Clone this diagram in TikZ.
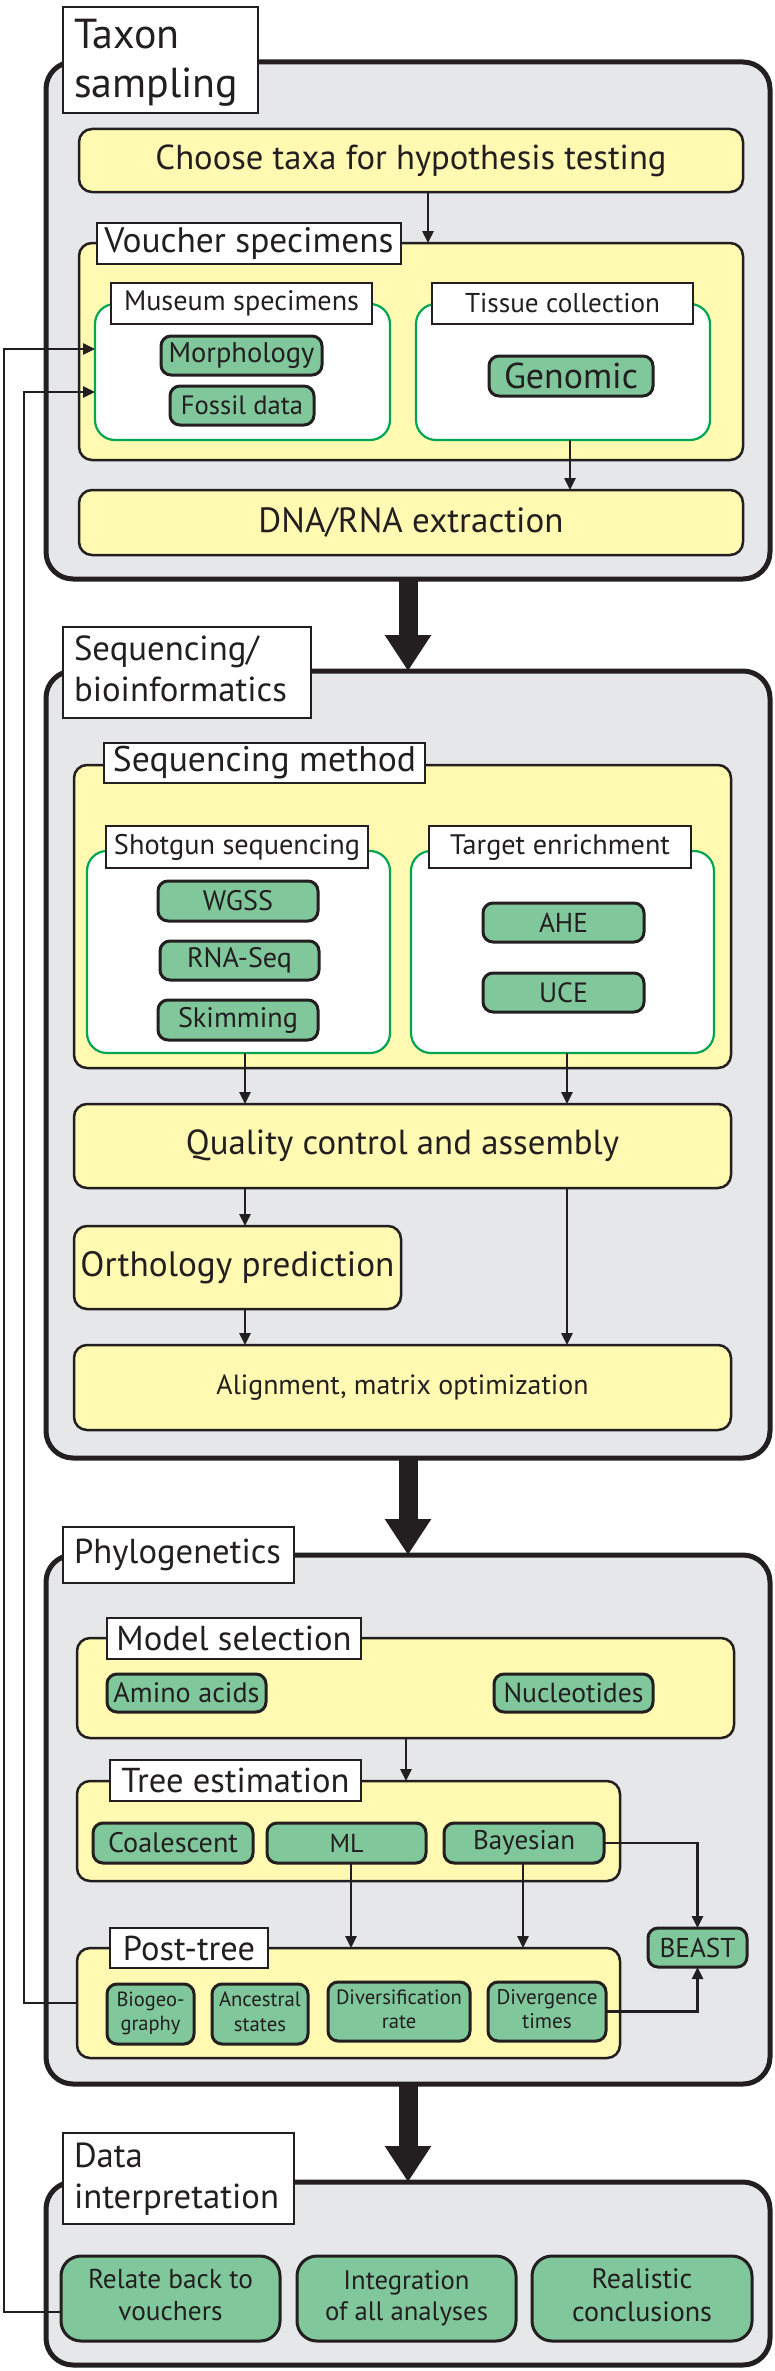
\documentclass[tikz,border=0pt]{standalone}
\usepackage{fontspec}
\setmainfont{PT Sans}
\usepackage{graphicx}
\usetikzlibrary{arrows.meta}
\definecolor{grayfill}{HTML}{E6E7E8}
\definecolor{yel}{HTML}{FFF9B1}
\definecolor{grn}{HTML}{80C79B}
\definecolor{grnline}{HTML}{00A651}
\definecolor{ink}{HTML}{231F20}
\newcommand\fw[2]{\resizebox{#1pt}{!}{\fontsize{20}{23.5}\selectfont #2}}
\newcommand\twoC[2]{\begin{tabular}{@{}c@{}}#1\\#2\end{tabular}}
\newcommand\twoL[2]{\begin{tabular}{@{}l@{}}#1\\#2\end{tabular}}
\newcommand\bx[7]{\node[#2, minimum width={(#5)-(#3)}, minimum height={(#6)-(#4)}] (#1) at ({((#3)+(#5))/2},{((#4)+(#6))/2}) {#7};}
\tikzset{
  base/.style={inner sep=0pt, outer sep=0pt, text=ink},
  graybox/.style={base, draw=ink, line width=5pt, fill=grayfill, rounded corners=27pt},
  yelbox/.style={base, draw=ink, line width=2.5pt, fill=yel, rounded corners=13pt},
  wbox/.style={base, draw=grnline, line width=2.2pt, fill=white, rounded corners=20pt},
  lbl/.style={base, draw=ink, line width=2.5pt, fill=white},
  gnode/.style={base, draw=ink, line width=3pt, fill=grn, rounded corners=10pt},
  gbig/.style={gnode, rounded corners=20pt},
  txt/.style={base},
  arr/.style={draw=ink, line width=2.5pt, -{Triangle[width=11pt,length=12pt]}},
  bigarr/.style={draw=ink, line width=19pt, -{Triangle[width=44pt,length=36pt]}}
}
\begin{document}
\begin{tikzpicture}[x=1pt,y=-1pt]
\useasboundingbox (0,0) rectangle (775,2371);
% ---------- section frames
\bx{g1}{graybox}{46}{62}{770}{579}{}
\bx{g2}{graybox}{46}{671}{770}{1458}{}
\bx{g3}{graybox}{46}{1555}{770}{2084}{}
\bx{g4}{graybox}{46}{2182}{770}{2365}{}
% ---------- Taxon sampling
\bx{taxonlbl}{lbl}{63}{7}{258}{113}{}
\node[txt, anchor=west] (taxontxt) at (74,63) {\fw{164}{\twoL{Taxon}{sampling}}};
\bx{choose}{yelbox}{79}{129}{743}{192}{\fw{511}{Choose taxa for hypothesis testing}}
\bx{voucher}{yelbox}{79}{243}{743}{460}{}
\bx{museum}{wbox}{95}{304}{390}{440}{}
\bx{tissue}{wbox}{416}{304}{710}{440}{}
\bx{voucherlbl}{lbl}{97}{223}{401}{264}{\fw{289}{Voucher specimens}}
\bx{museumlbl}{lbl}{111}{283}{372}{324}{\fw{235}{Museum specimens}}
\bx{tissuelbl}{lbl}{432}{283}{693}{324}{\fw{195}{Tissue collection}}
\bx{morph}{gnode}{161}{336}{322}{375}{\fw{146}{Morphology}}
\bx{fossil}{gnode}{170}{386}{314}{425}{\fw{122}{Fossil data}}
\bx{genomic}{gnode}{489}{356}{653}{396}{\fw{134}{Genomic}}
\bx{dna}{yelbox}{79}{490}{743}{555}{\fw{305}{DNA/RNA extraction}}
% ---------- Sequencing / bioinformatics
\bx{seqlbl}{lbl}{63}{627}{311}{718}{}
\node[txt, anchor=west] (seqtxt) at (74,673) {\fw{213}{\twoL{Sequencing/}{bioinformatics}}};
\bx{seqm}{yelbox}{74}{765}{731}{1068}{}
\bx{shotgun}{wbox}{87}{851}{390}{1053}{}
\bx{target}{wbox}{411}{851}{714}{1053}{}
\bx{seqmlbl}{lbl}{104}{743}{425}{783}{\fw{303}{Sequencing method}}
\bx{shotlbl}{lbl}{106}{826}{368}{868}{\fw{246}{Shotgun sequencing}}
\bx{targlbl}{lbl}{429}{826}{691}{868}{\fw{220}{Target enrichment}}
\bx{wgss}{gnode}{158}{881}{318}{921}{\fw{70}{WGSS}}
\bx{rnaseq}{gnode}{160}{941}{319}{980}{\fw{105}{RNA-Seq}}
\bx{skim}{gnode}{158}{1000}{318}{1040}{\fw{120}{Skimming}}
\bx{ahe}{gnode}{483}{903}{644}{942}{\fw{49}{AHE}}
\bx{uce}{gnode}{483}{973}{644}{1012}{\fw{49}{UCE}}
\bx{qc}{yelbox}{74}{1104}{731}{1188}{\fw{433}{Quality control and assembly}}
\bx{ortho}{yelbox}{74}{1226}{401}{1309}{\fw{314}{Orthology prediction}}
\bx{align}{yelbox}{74}{1345}{731}{1430}{\fw{372}{Alignment, matrix optimization}}
% ---------- Phylogenetics
\bx{phylolbl}{lbl}{63}{1527}{294}{1583}{}
\node[txt, anchor=west] (phylotxt) at (74,1555) {\fw{207}{Phylogenetics}};
\bx{model}{yelbox}{77}{1638}{734}{1738}{}
\bx{modellbl}{lbl}{107}{1618}{361}{1659}{\fw{235}{Model selection}}
\bx{amino}{gnode}{107}{1674}{266}{1712}{\fw{146}{Amino acids}}
\bx{nucl}{gnode}{494}{1674}{653}{1712}{\fw{140}{Nucleotides}}
\bx{tree}{yelbox}{77}{1781}{620}{1881}{}
\bx{treelbl}{lbl}{110}{1760}{361}{1801}{\fw{228}{Tree estimation}}
\bx{coal}{gnode}{93}{1823}{253}{1863}{\fw{130}{Coalescent}}
\bx{ml}{gnode}{267}{1823}{426}{1863}{\fw{34}{ML}}
\bx{bayes}{gnode}{444}{1823}{604}{1863}{\fw{102}{Bayesian}}
\bx{post}{yelbox}{77}{1948}{620}{2058}{}
\bx{postlbl}{lbl}{110}{1928}{268}{1968}{\fw{132}{Post-tree}}
\bx{beast}{gnode}{648}{1928}{747}{1967}{\fw{76}{BEAST}}
\bx{biogeo}{gnode}{107}{1984}{194}{2044}{\fw{68}{\twoC{Biogeo-}{graphy}}}
\bx{ances}{gnode}{212}{1984}{308}{2044}{\fw{82}{\twoC{Ancestral}{states}}}
\bx{divers}{gnode}{328}{1982}{470}{2041}{\fw{126}{\twoC{Diversification}{rate}}}
\bx{diverg}{gnode}{488}{1982}{606}{2041}{\fw{101}{\twoC{Divergence}{times}}}
% ---------- Data interpretation
\bx{datalbl}{lbl}{63}{2133}{294}{2224}{}
\node[txt, anchor=west] (datatxt) at (74,2180) {\fw{205}{\twoL{Data}{interpretation}}};
\bx{relate}{gbig}{61}{2256}{280}{2341}{\fw{165}{\twoC{Relate back to}{vouchers}}}
\bx{integ}{gbig}{297}{2256}{516}{2341}{\fw{163}{\twoC{Integration}{of all analyses}}}
\bx{real}{gbig}{532}{2256}{752}{2341}{\fw{140}{\twoC{Realistic}{conclusions}}}
% ---------- helper coordinates
\coordinate (cA) at (428,0);
\coordinate (cB) at (570,0);
\coordinate (cC) at (245,0);
\coordinate (cD) at (567,0);
\coordinate (cE) at (406,0);
\coordinate (cF) at (351,0);
\coordinate (cG) at (523,0);
\coordinate (fbO) at (4,349);
\coordinate (fbOb) at (4,2312);
\coordinate (fbI) at (24,392);
\coordinate (fbIb) at (24,2003);
% ---------- connectors
\draw[arr] (choose.south -| cA) -- (voucher.north -| cA);
\draw[arr] (tissue.south -| cB) -- (dna.north -| cB);
\draw[arr] (shotgun.south -| cC) -- (qc.north -| cC);
\draw[arr] (target.south -| cD) -- (qc.north -| cD);
\draw[arr] (qc.south -| cC) -- (ortho.north -| cC);
\draw[arr] (ortho.south -| cC) -- (align.north -| cC);
\draw[arr] (qc.south -| cD) -- (align.north -| cD);
\draw[arr] (model.south -| cE) -- (tree.north -| cE);
\draw[arr] (ml.south -| cF) -- (post.north -| cF);
\draw[arr] (bayes.south -| cG) -- (post.north -| cG);
\draw[arr] (bayes.east) -| (beast.north);
\draw[arr] (diverg.east) -| (beast.south);
\draw[arr] (fbOb -| relate.west) -- (fbOb) -- (fbO) -- (fbO -| museum.west);
\draw[arr] (fbIb -| post.west) -- (fbIb) -- (fbI) -- (fbI -| museum.west);
\draw[bigarr] (g1.south) -- (g2.north);
\draw[bigarr] (g2.south) -- (g3.north);
\draw[bigarr] (g3.south) -- (g4.north);
\end{tikzpicture}
\end{document}
